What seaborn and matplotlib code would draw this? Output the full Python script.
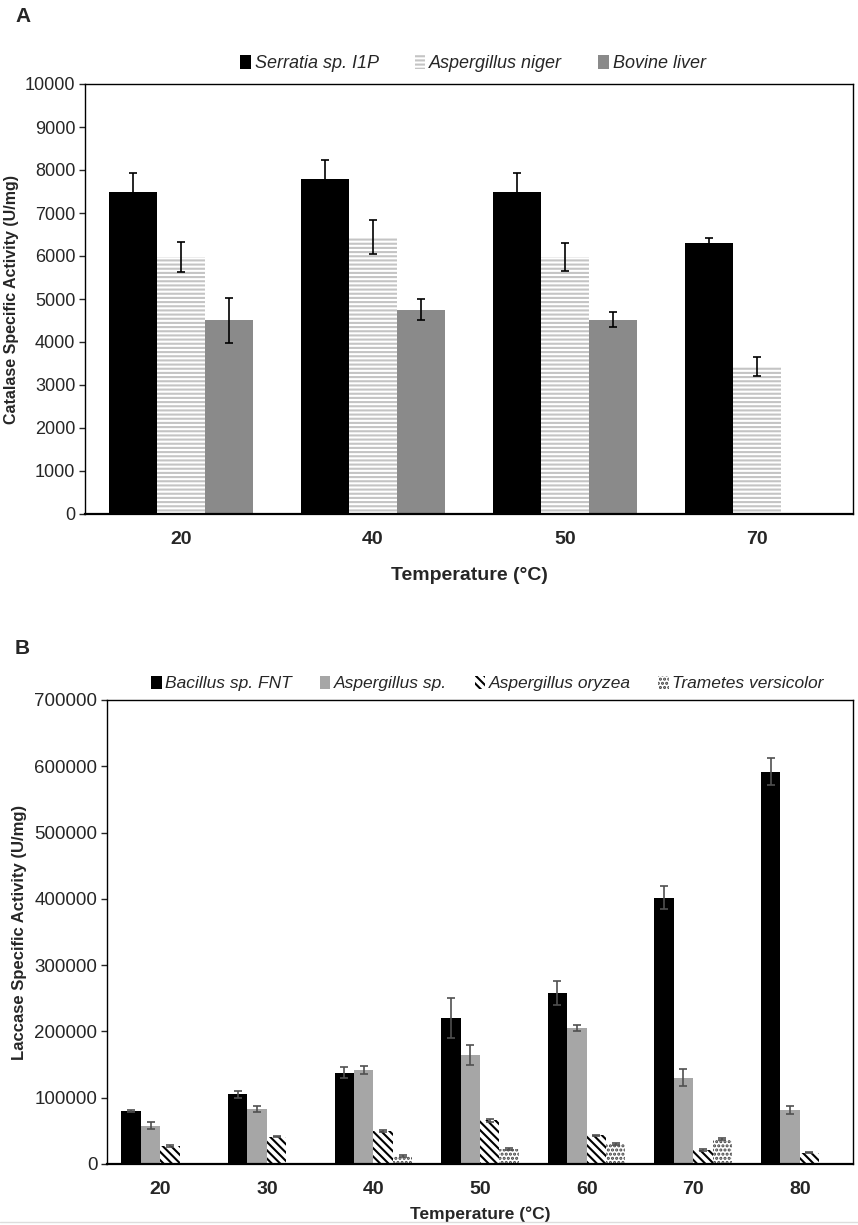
import numpy as np
import pandas as pd
import seaborn as sns
import matplotlib.pyplot as plt
from matplotlib.patches import Patch

sns.set_theme(style="white")
plt.rcParams["font.family"] = ["Liberation Sans", "DejaVu Sans"]
plt.rcParams["hatch.linewidth"] = 1.5

# ---------- Panel A: catalase ----------
temps_a = ["20", "40", "50", "70"]
cat_names = ["Serratia sp. I1P", "Aspergillus niger", "Bovine liver"]
serratia = [7480, 7800, 7480, 6300]
serratia_err = [440, 440, 440, 130]
niger = [5980, 6440, 5980, 3420]
niger_err = [350, 400, 330, 220]
bovine = [4500, 4750, 4520, 0]
bovine_err = [520, 250, 170, 0]

# ---------- Panel B: laccase ----------
temps_b = ["20", "30", "40", "50", "60", "70", "80"]
lac_names = ["Bacillus sp. FNT", "Aspergillus sp.", "Aspergillus oryzea", "Trametes versicolor"]
bacillus = [80000, 105000, 138000, 220000, 258000, 402000, 592000]
bacillus_err = [1500, 5000, 9000, 30000, 18000, 18000, 20000]
asp_sp = [58000, 83000, 142000, 164000, 205000, 130000, 82000]
asp_sp_err = [5000, 4000, 6000, 15000, 4000, 13000, 6000]
oryzea = [27000, 41000, 50000, 66000, 43000, 21000, 17000]
oryzea_err = [1000, 1000, 2000, 2000, 1500, 1000, 1000]
trametes = [0, 0, 12000, 23000, 30000, 38000, 0]
trametes_err = [0, 0, 1500, 1500, 1500, 1500, 0]

df_a = pd.DataFrame({
    "temp": temps_a * 3,
    "src": np.repeat(cat_names, len(temps_a)),
    "val": serratia + niger + bovine,
    "err": serratia_err + niger_err + bovine_err,
})
df_b = pd.DataFrame({
    "temp": temps_b * 4,
    "src": np.repeat(lac_names, len(temps_b)),
    "val": bacillus + asp_sp + oryzea + trametes,
    "err": bacillus_err + asp_sp_err + oryzea_err + trametes_err,
})

# styles: (facecolor, edgecolor, hatch)
style_a = [("black", "black", None), ("white", "#c4c4c4", "----"), ("#8a8a8a", "#8a8a8a", None)]
style_b = [("black", "black", None), ("#a6a6a6", "#a6a6a6", None),
           ("white", "black", "\\\\\\\\"), ("white", "#404040", "....")]

fig = plt.figure(figsize=(8.58, 12.25), dpi=100)
ax_a = fig.add_axes([85 / 858, 1 - 514 / 1225, 768 / 858, 430 / 1225])
ax_b = fig.add_axes([107 / 858, 1 - 1164 / 1225, 746 / 858, 464 / 1225])


def draw_panel(ax, df, order, names, styles, width, errcolor):
    sns.barplot(data=df, x="temp", y="val", hue="src", order=order, hue_order=names,
                errorbar=None, width=width, ax=ax, legend=False, linewidth=0)
    bars = ax.patches
    n = len(order)
    for k, (fc, ec, h) in enumerate(styles):
        sub = df[df["src"] == names[k]].set_index("temp").loc[order]
        for i in range(n):
            p = bars[k * n + i]
            p.set_facecolor(fc)
            p.set_edgecolor(ec)
            p.set_linewidth(0)
            if h:
                p.set_hatch(h)
            e = sub["err"].iloc[i]
            if e > 0:
                ax.errorbar(p.get_x() + p.get_width() / 2, p.get_height(), yerr=e,
                            fmt="none", ecolor=errcolor, elinewidth=1.2, capsize=3, capthick=1.2)
    handles = [Patch(facecolor=fc, edgecolor=ec, hatch=h, linewidth=0) for fc, ec, h in styles]
    return handles


h_a = draw_panel(ax_a, df_a, temps_a, cat_names, style_a, 0.75, "black")
h_b = draw_panel(ax_b, df_b, temps_b, lac_names, style_b, 0.73, "#505050")

# axis A
ax_a.set_xlim(-0.5, 3.5)
ax_a.set_ylim(0, 10000)
ax_a.set_yticks(range(0, 10001, 1000))
ax_a.tick_params(axis="y", labelsize=13, length=4, direction="out", left=True, width=1, pad=3)
ax_a.tick_params(axis="x", labelsize=14, length=0, pad=12)
for t in ax_a.get_xticklabels():
    t.set_fontweight("bold")
ax_a.set_xlabel("Temperature (°C)", fontsize=14, fontweight="bold", labelpad=14)
ax_a.set_ylabel("Catalase Specific Activity (U/mg)", fontsize=11.5, fontweight="bold", labelpad=4)
for s in ax_a.spines.values():
    s.set_color("black")
    s.set_linewidth(1)
ax_a.spines["bottom"].set_linewidth(1.6)
ax_a.legend(h_a, cat_names, ncol=3, loc="lower center", bbox_to_anchor=(0.505, 0.99),
            frameon=False, prop={"style": "italic", "size": 13}, handlelength=0.6,
            handleheight=0.8, handletextpad=0.2, columnspacing=2.0)

# axis B
ax_b.set_xlim(-0.5, 6.5)
ax_b.set_ylim(0, 700000)
ax_b.set_yticks(range(0, 700001, 100000))
ax_b.tick_params(axis="y", labelsize=13.5, length=4, direction="out", left=True, width=1, pad=3)
ax_b.tick_params(axis="x", labelsize=14, length=0, pad=12)
for t in ax_b.get_xticklabels():
    t.set_fontweight("bold")
ax_b.set_xlabel("Temperature (°C)", fontsize=12.5, fontweight="bold", labelpad=6)
ax_b.set_ylabel("Laccase Specific Activity (U/mg)", fontsize=12, fontweight="bold", labelpad=5)
for s in ax_b.spines.values():
    s.set_color("black")
    s.set_linewidth(1)
ax_b.spines["bottom"].set_linewidth(1.6)
ax_b.legend(h_b, lac_names, ncol=4, loc="lower center", bbox_to_anchor=(0.51, 0.985),
            frameon=False, prop={"style": "italic", "size": 12.5}, handlelength=0.6,
            handleheight=0.8, handletextpad=0.2, columnspacing=1.6)

fig.text(15 / 858, 1 - 17 / 1225, "A", fontsize=15, fontweight="bold", va="center")
fig.text(15 / 858, 1 - 648 / 1225, "B", fontsize=15, fontweight="bold", va="center")
fig.add_artist(plt.Line2D([0, 1], [1 - 1222 / 1225] * 2, color="#dddddd", lw=1))

fig.savefig("out.png", dpi=100)
